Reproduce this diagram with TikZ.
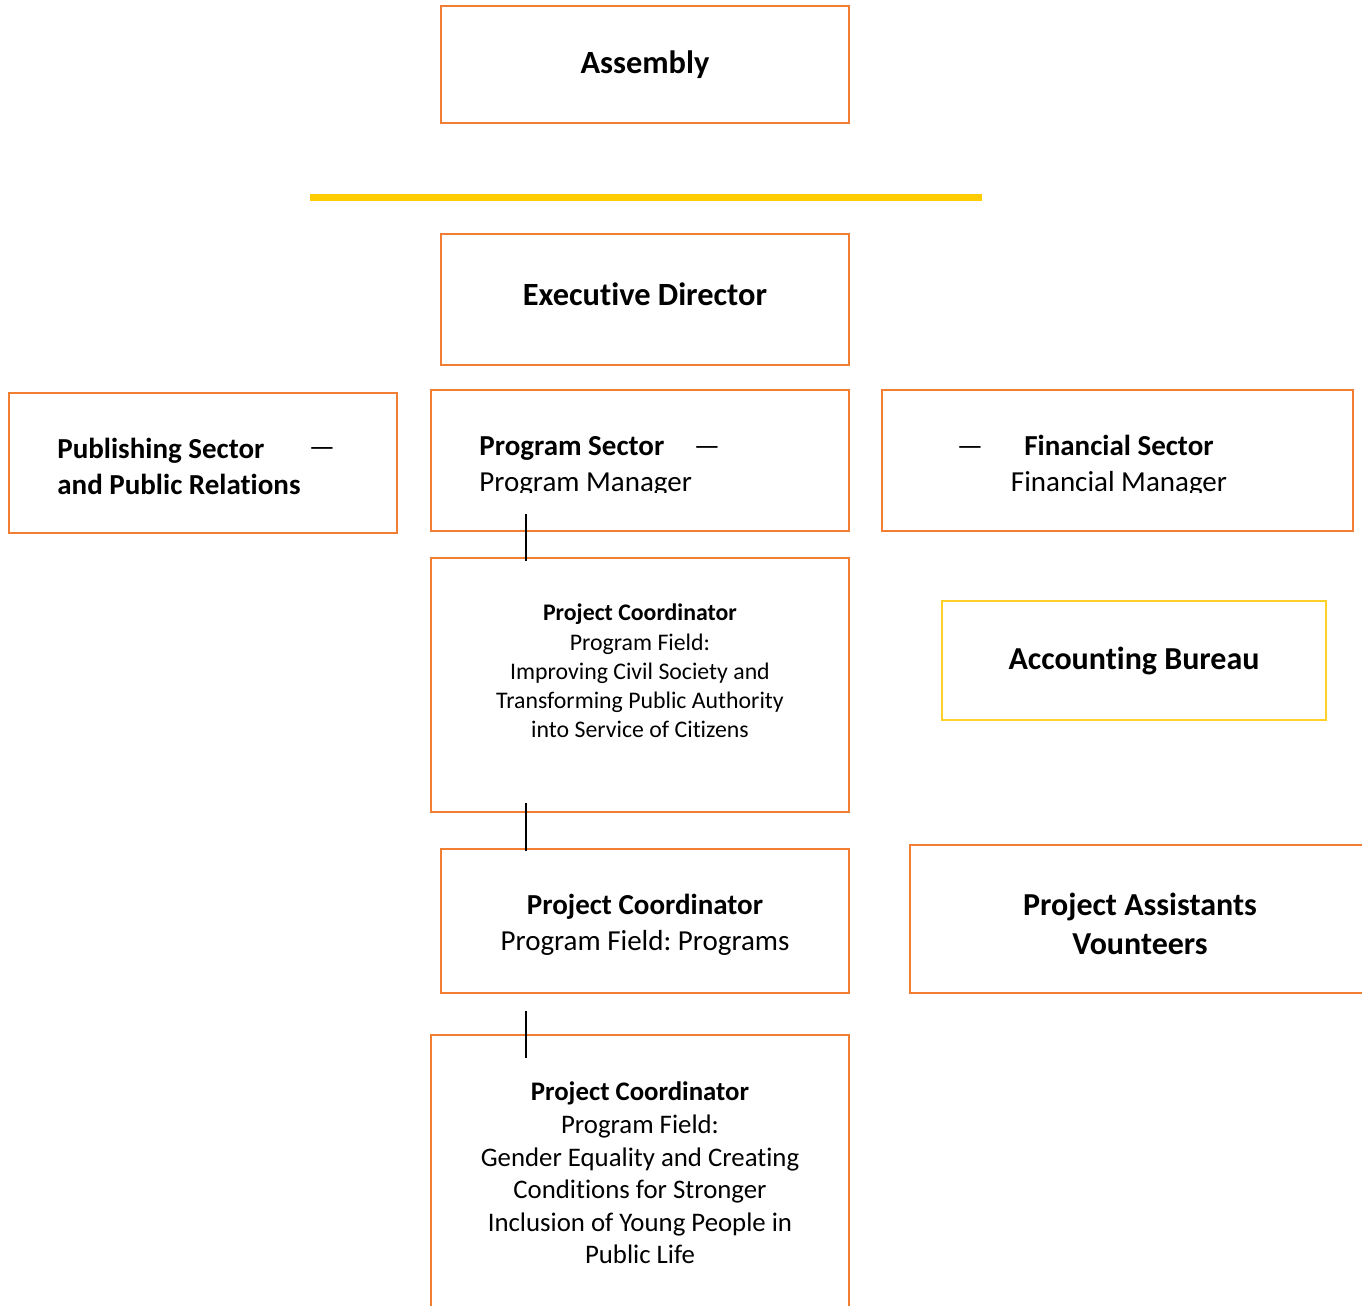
\documentclass[tikz,border=0pt]{standalone}
\usepackage{fontspec}
\setmainfont{Carlito}[Ligatures={NoCommon}]
\frenchspacing
\definecolor{boxorange}{RGB}{241,126,50}
\definecolor{baryellow}{RGB}{255,204,0}
\definecolor{bureauyellow}{RGB}{255,208,40}
\tikzset{
  orgbox/.style={draw=boxorange, line width=0.75pt, rectangle, inner sep=0pt},
  bigtxt/.style={font=\fontsize{14.5}{18}\selectfont, inner sep=0pt},
  headtxt/.style={font=\fontsize{16.2}{19.5}\selectfont, inner sep=0pt},
  midtxt/.style={font=\fontsize{13.4}{16.3}\selectfont, inner sep=0pt, align=center},
  smalltxt/.style={font=\fontsize{11.9}{14.6}\selectfont, inner sep=0pt, align=center},
  tline/.style={line width=1pt}
}
\begin{document}
\begin{tikzpicture}[x=0.5pt,y=-0.5pt]
\useasboundingbox (0,0) rectangle (1362,1306);

% boxes
\node[orgbox, minimum width=204pt, minimum height=58.5pt] (assembly) at (645,64.5) {};
\node[orgbox, minimum width=204pt, minimum height=65.5pt] (director) at (645,299.5) {};
\node[orgbox, minimum width=194pt, minimum height=70pt] (publish) at (203,463) {};
\node[orgbox, minimum width=209pt, minimum height=70.5pt] (program) at (640,460.5) {};
\node[orgbox, minimum width=235.5pt, minimum height=70.5pt] (finance) at (1117.5,460.5) {};
\node[orgbox, minimum width=209pt, minimum height=127pt] (coordA) at (640,685) {};
\node[orgbox, draw=bureauyellow, minimum width=192pt, minimum height=59.5pt] (bureau) at (1134,660.5) {};
\node[orgbox, minimum width=204pt, minimum height=72pt] (coordB) at (645,921) {};
\node[orgbox, minimum width=235pt, minimum height=74pt] (assist) at (1145,919) {};
\node[orgbox, minimum width=209pt, minimum height=147.5pt] (coordC) at (640,1182.5) {};

\draw[baryellow, line width=3.5pt] (310,197.5) -- (982,197.5);

% texts
\node[headtxt] (assemblyT) at (645,65) {\textbf{Assembly}};
\node[headtxt] (directorT) at (645,294) {\textbf{Executive Director}};
\node[bigtxt, align=left, anchor=west] (publishT) at (57,466) {\textbf{Publishing Sector}\\\textbf{and Public Relations}};
\node[bigtxt] (publishD) at (322,452) {---};

\begin{scope}
\clip (400,380) rectangle (1362,492);
\node[bigtxt, align=left, anchor=west] (programT) at (479,466) {\textbf{Program Sector}\\Program Manager};
\node[bigtxt, align=center] (financeT) at (1119,466) {\textbf{Financial Sector}\\Financial Manager};
\end{scope}
\node[bigtxt] (programD) at (707,451) {---};
\node[bigtxt] (financeD) at (970,451) {---};

\node[smalltxt] (coordAT) at (640,671) {\textbf{Project Coordinator}\\Program Field:\\Improving Civil Society and\\Transforming Public Authority\\into Service of Citizens};
\node[headtxt, font=\fontsize{16}{19.5}\selectfont] (bureauT) at (1134,661) {\textbf{Accounting Bureau}};
\node[bigtxt, align=center] (coordBT) at (645,925) {\textbf{Project Coordinator}\\Program Field: Programs};
\node[headtxt, font=\fontsize{16}{19.5}\selectfont, align=center] (assistT) at (1140,924) {\textbf{Project Assistants}\\\textbf{Vounteers}};
\node[midtxt] (coordCT) at (640,1173) {\textbf{Project Coordinator}\\Program Field:\\Gender Equality and Creating\\Conditions for Stronger\\Inclusion of Young People in\\Public Life};

% connectors
\coordinate (jA1) at (526,514);
\coordinate (jA2) at (526,561);
\coordinate (jB1) at (526,803);
\coordinate (jB2) at (526,851);
\coordinate (jC1) at (526,1011);
\coordinate (jC2) at (526,1058);
\draw[tline] (jA1) -- (jA2);
\draw[tline] (jB1) -- (jB2);
\draw[tline] (jC1) -- (jC2);
\end{tikzpicture}
\end{document}
